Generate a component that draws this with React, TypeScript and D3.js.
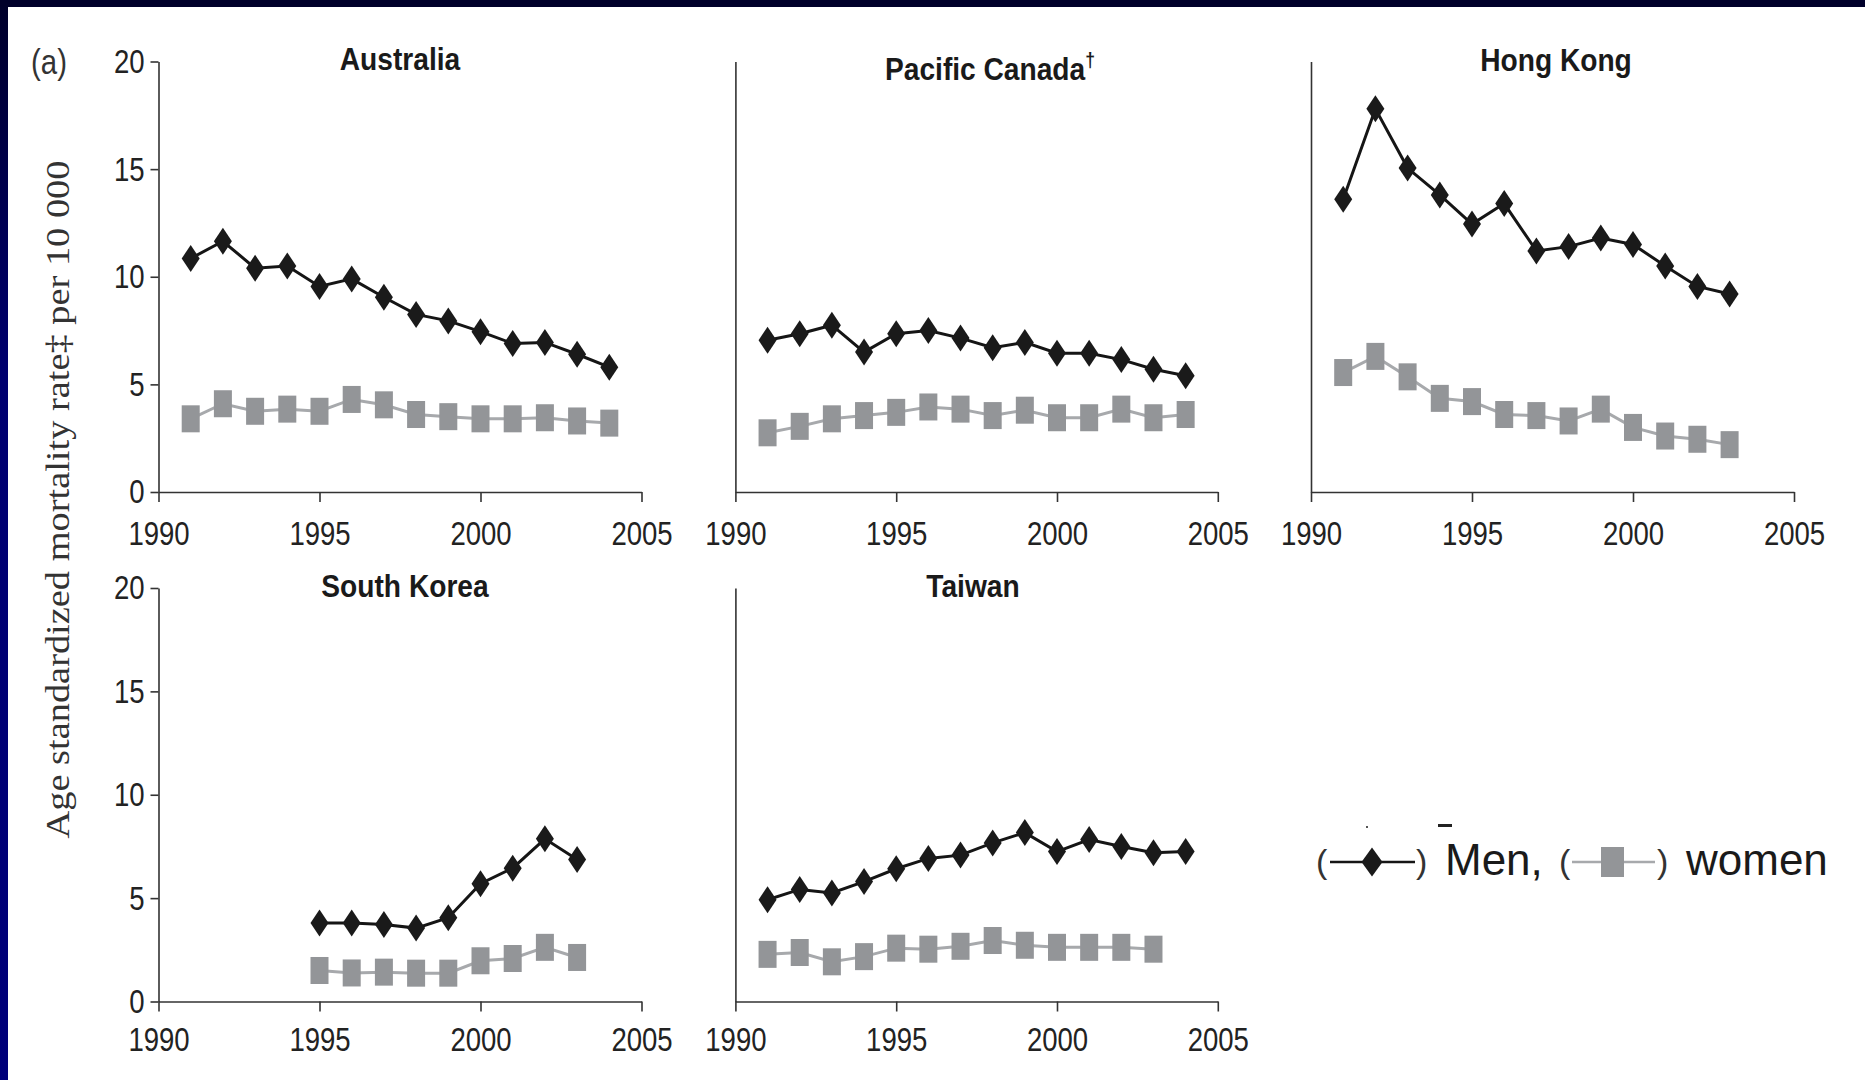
import React from 'react';
import * as d3 from 'd3';

const yearTicks = [1990, 1995, 2000, 2005];
const rateTicks = [0, 5, 10, 15, 20];

const australiaYears = [1991, 1992, 1993, 1994, 1995, 1996, 1997, 1998, 1999, 2000, 2001, 2002, 2003, 2004];
const australiaMen = [10.85, 11.65, 10.4, 10.5, 9.55, 9.9, 9.05, 8.25, 7.95, 7.45, 6.9, 6.95, 6.4, 5.8];
const australiaWomen = [3.4, 4.1, 3.75, 3.85, 3.75, 4.3, 4.05, 3.6, 3.5, 3.4, 3.4, 3.45, 3.3, 3.2];

const canadaYears = [1991, 1992, 1993, 1994, 1995, 1996, 1997, 1998, 1999, 2000, 2001, 2002, 2003, 2004];
const canadaMen = [7.05, 7.35, 7.75, 6.5, 7.35, 7.5, 7.15, 6.7, 6.95, 6.45, 6.45, 6.15, 5.7, 5.4];
const canadaWomen = [2.75, 3.05, 3.4, 3.55, 3.7, 3.95, 3.85, 3.55, 3.8, 3.45, 3.45, 3.85, 3.45, 3.6];

const hongKongYears = [1991, 1992, 1993, 1994, 1995, 1996, 1997, 1998, 1999, 2000, 2001, 2002, 2003];
const hongKongMen = [13.6, 17.8, 15.05, 13.8, 12.45, 13.4, 11.2, 11.4, 11.8, 11.5, 10.5, 9.55, 9.2];
const hongKongWomen = [5.55, 6.3, 5.35, 4.35, 4.2, 3.6, 3.55, 3.3, 3.85, 3.0, 2.6, 2.45, 2.2];

const koreaYears = [1995, 1996, 1997, 1998, 1999, 2000, 2001, 2002, 2003];
const koreaMen = [3.8, 3.8, 3.72, 3.55, 4.05, 5.7, 6.45, 7.87, 6.87];
const koreaWomen = [1.5, 1.38, 1.42, 1.37, 1.37, 1.97, 2.08, 2.62, 2.13];

const taiwanMenYears = [1991, 1992, 1993, 1994, 1995, 1996, 1997, 1998, 1999, 2000, 2001, 2002, 2003, 2004];
const taiwanMen = [4.92, 5.42, 5.25, 5.8, 6.42, 6.92, 7.08, 7.67, 8.17, 7.25, 7.83, 7.5, 7.2, 7.25];
const taiwanWomenYears = [1991, 1992, 1993, 1994, 1995, 1996, 1997, 1998, 1999, 2000, 2001, 2002, 2003];
const taiwanWomen = [2.28, 2.37, 1.92, 2.17, 2.58, 2.53, 2.67, 2.95, 2.72, 2.62, 2.62, 2.62, 2.53];

const yLabel = 'Age standardized mortality rate\u2021 per 10 000';

// no narrow face installed: squeeze Liberation Sans horizontally instead
const sans = "'Liberation Sans', Arial, sans-serif";
const tickSqueeze = 0.81;

const App = () => {
  const ref = React.useRef<SVGSVGElement>(null);

  React.useEffect(() => {
    const svg = d3.select(ref.current);
    svg.selectAll('*').remove();

    const W = 1865;
    const H = 1080;
    svg.append('rect').attr('width', W).attr('height', H).attr('fill', '#fff');

    // slide frame
    const grad = svg.append('defs').append('linearGradient')
      .attr('id', 'edge').attr('x1', 0).attr('x2', 0).attr('y1', 0).attr('y2', 1);
    grad.append('stop').attr('offset', '0%').attr('stop-color', '#00002a');
    grad.append('stop').attr('offset', '35%').attr('stop-color', '#000070');
    grad.append('stop').attr('offset', '100%').attr('stop-color', '#00007a');
    svg.append('rect').attr('x', 0).attr('y', 0).attr('width', 8).attr('height', H).attr('fill', 'url(#edge)');
    svg.append('rect').attr('x', 0).attr('y', 0).attr('width', W).attr('height', 7).attr('fill', '#00002a');

    const cols = [[158.5, 641.5], [735.4, 1217.8], [1311, 1794]];
    const rows = [[492, 61.5], [1001.5, 588]];
    const labelDy = [25, 21.5];

    const panels = [
      { name: 'Australia', row: 0, col: 0, tx: 400, ty: 70, ticks: true,
        menYears: australiaYears, men: australiaMen, womenYears: australiaYears, women: australiaWomen },
      { name: 'Pacific Canada', dagger: true, row: 0, col: 1, tx: 990, ty: 80, ticks: false,
        menYears: canadaYears, men: canadaMen, womenYears: canadaYears, women: canadaWomen },
      { name: 'Hong Kong', row: 0, col: 2, tx: 1556, ty: 71, ticks: false,
        menYears: hongKongYears, men: hongKongMen, womenYears: hongKongYears, women: hongKongWomen },
      { name: 'South Korea', row: 1, col: 0, tx: 405, ty: 597, ticks: true,
        menYears: koreaYears, men: koreaMen, womenYears: koreaYears, women: koreaWomen },
      { name: 'Taiwan', row: 1, col: 1, tx: 973, ty: 597, ticks: false,
        menYears: taiwanMenYears, men: taiwanMen, womenYears: taiwanWomenYears, women: taiwanWomen },
    ];

    panels.forEach(p => {
      const x = d3.scaleLinear().domain([1990, 2005]).range(cols[p.col]);
      const y = d3.scaleLinear().domain([0, 20]).range(rows[p.row]);
      const g = svg.append('g');

      const xAxis = g.append('g')
        .attr('transform', `translate(0,${y(0)})`)
        .call(d3.axisBottom(x).tickValues(yearTicks).tickFormat(d3.format('d')).tickSize(10).tickSizeOuter(0).tickPadding(18));
      xAxis.select('.domain').attr('stroke', '#333').attr('stroke-width', 1.6);
      xAxis.selectAll('.tick line').attr('stroke', '#333').attr('stroke-width', 1.6);
      xAxis.selectAll('.tick text')
        .attr('font-family', sans).attr('font-size', 34).attr('fill', '#222')
        .attr('dy', labelDy[p.row])
        .attr('transform', `scale(${tickSqueeze},1)`);

      const yAxis = g.append('g')
        .attr('transform', `translate(${x(1990)},0)`)
        .call(d3.axisLeft(y).tickValues(p.ticks ? rateTicks : []).tickSize(8).tickSizeOuter(0).tickPadding(6));
      yAxis.select('.domain').attr('stroke', '#333').attr('stroke-width', 1.6);
      yAxis.selectAll('.tick line').attr('stroke', '#333').attr('stroke-width', 1.6);
      yAxis.selectAll('.tick text')
        .attr('font-family', sans).attr('font-size', 34).attr('fill', '#222')
        .attr('x', -14 / tickSqueeze).attr('dy', '0.32em')
        .attr('transform', `scale(${tickSqueeze},1)`);

      const title = g.append('text')
        .attr('transform', `translate(${p.tx},${p.ty}) scale(0.88,1)`)
        .attr('text-anchor', 'middle')
        .attr('font-family', sans).attr('font-weight', 'bold').attr('font-size', 32).attr('fill', '#1a1a1a')
        .text(p.name);
      if (p.dagger) {
        title.append('tspan').attr('font-size', 20).attr('dy', -13).text('\u2020');
      }

      const line = d3.line<[number, number]>().x(d => x(d[0])).y(d => y(d[1]));
      const womenPts = p.womenYears.map((yr, i) => [yr, p.women[i]] as [number, number]);
      const menPts = p.menYears.map((yr, i) => [yr, p.men[i]] as [number, number]);

      g.append('path').datum(womenPts)
        .attr('fill', 'none').attr('stroke', '#a7a9ac').attr('stroke-width', 3).attr('d', line);
      g.selectAll('.sq').data(womenPts).enter().append('rect')
        .attr('x', d => x(d[0]) - 9).attr('y', d => y(d[1]) - 13.5)
        .attr('width', 18).attr('height', 27).attr('fill', '#939598');

      g.append('path').datum(menPts)
        .attr('fill', 'none').attr('stroke', '#151515').attr('stroke-width', 3).attr('d', line);
      g.selectAll('.dm').data(menPts).enter().append('path')
        .attr('transform', d => `translate(${x(d[0])},${y(d[1])})`)
        .attr('d', 'M0,-13.5L9,0L0,13.5L-9,0Z').attr('fill', '#1a1a1a');
    });

    // panel label
    svg.append('text').attr('transform', 'translate(31,74) scale(0.84,1)')
      .attr('font-family', sans).attr('font-size', 35).attr('fill', '#333').text('(a)');

    // shared y label
    svg.append('text')
      .attr('transform', 'translate(69,499.5) rotate(-90)')
      .attr('text-anchor', 'middle')
      .attr('font-family', "'Liberation Serif', 'Times New Roman', serif")
      .attr('font-size', 34).attr('fill', '#333')
      .attr('textLength', 678).attr('lengthAdjust', 'spacingAndGlyphs')
      .text(yLabel);

    // legend
    const lg = svg.append('g').attr('font-family', sans).attr('fill', '#1a1a1a');
    const ly = 862;
    const paren = (px: number, s: string) => lg.append('text').attr('x', px).attr('y', ly + 11)
      .attr('font-size', 34).attr('fill', '#333').text(s);
    paren(1316, '(');
    lg.append('line').attr('x1', 1330).attr('x2', 1415).attr('y1', ly).attr('y2', ly)
      .attr('stroke', '#151515').attr('stroke-width', 2.5);
    lg.append('path').attr('transform', `translate(1372,${ly})`)
      .attr('d', 'M0,-14.5L10.5,0L0,14.5L-10.5,0Z').attr('fill', '#1a1a1a');
    paren(1416, ')');
    lg.append('text').attr('x', 1445).attr('y', ly + 13).attr('font-size', 44).text('Men,');
    paren(1559, '(');
    lg.append('line').attr('x1', 1572).attr('x2', 1655).attr('y1', ly).attr('y2', ly)
      .attr('stroke', '#a7a9ac').attr('stroke-width', 2.5);
    lg.append('rect').attr('x', 1601).attr('y', ly - 15).attr('width', 23).attr('height', 30).attr('fill', '#939598');
    paren(1657, ')');
    lg.append('text').attr('x', 1686).attr('y', ly + 13).attr('font-size', 44).text('women');
    // stray marks above the legend
    lg.append('rect').attr('x', 1366).attr('y', ly - 36).attr('width', 2).attr('height', 2).attr('fill', '#555');
    lg.append('rect').attr('x', 1438).attr('y', ly - 38).attr('width', 14).attr('height', 3).attr('fill', '#222');
  }, []);

  return (
    <div style={{ position: 'absolute', left: 0, top: 0 }}>
      <svg ref={ref} width={1865} height={1080} style={{ display: 'block' }} />
    </div>
  );
};

export default App;
